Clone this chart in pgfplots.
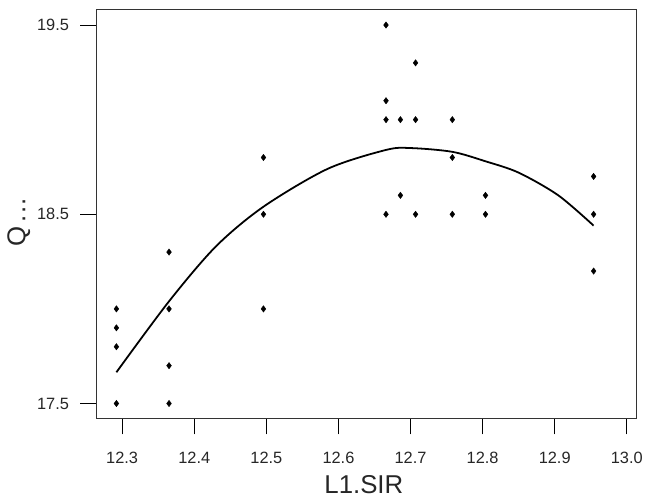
\documentclass[border=0pt]{standalone}
\usepackage{pgfplots}
\pgfplotsset{compat=1.18}
\usepackage{fontspec}
\setmainfont{Liberation Sans}

\begin{document}
\begin{tikzpicture}
\begin{axis}[
  at={(0,0)}, anchor=south west,
  scale only axis,
  width=545pt, height=412pt,
  xmin=12.264, xmax=13.014,
  ymin=17.42, ymax=19.58,
  xtick={12.3,12.4,12.5,12.6,12.7,12.8,12.9,13.0},
  ytick={17.5,18.5,19.5},
  xticklabels={12.3,12.4,12.5,12.6,12.7,12.8,12.9,13.0},
  yticklabels={17.5,18.5,19.5},
  tick align=outside,
  xtick pos=bottom, ytick pos=left,
  major tick length=16pt,
  tick style={black, line width=0.8pt},
  axis line style={black!80, line width=0.9pt},
  /pgf/number format/assume math mode=true,
  ticklabel style={font=\fontsize{16.5}{19}\selectfont, black!85},
  xticklabel style={yshift=-14pt},
  yticklabel style={xshift=-8pt},
  xlabel={L1.SIR},
  ylabel={Q\,.\kern1pt.\kern1pt.},
  label style={font=\fontsize{26}{31}\selectfont, black!85},
  x label style={at={(axis description cs:0.495,0)}, anchor=base, yshift=-75pt},
  y label style={at={(axis description cs:0,0.48)}, anchor=center, yshift=78pt},
  clip=false,
]
\addplot[only marks, mark=diamond*, mark size=3.2pt, black] coordinates {
  (12.292,18.0) (12.292,17.9) (12.292,17.8) (12.292,17.5)
  (12.365,18.3) (12.365,18.0) (12.365,17.7) (12.365,17.5)
  (12.496,18.8) (12.496,18.5) (12.496,18.0)
  (12.666,19.5) (12.666,19.1) (12.666,19.0) (12.666,18.5)
  (12.686,19.0) (12.686,18.6)
  (12.707,19.3) (12.707,19.0) (12.707,18.5)
  (12.758,19.0) (12.758,18.8) (12.758,18.5)
  (12.804,18.6) (12.804,18.5)
  (12.954,18.7) (12.954,18.5) (12.954,18.2)
};
\addplot[black, line width=1.8pt, smooth] coordinates {
  (12.292,17.665) (12.365,18.04) (12.43,18.33) (12.496,18.54)
  (12.585,18.74) (12.666,18.84) (12.70,18.85) (12.758,18.83)
  (12.804,18.78) (12.85,18.72) (12.905,18.60) (12.954,18.44)
};
\end{axis}
\path[use as bounding box] (-97pt,-83pt) rectangle (549pt,422pt);
\end{tikzpicture}
\end{document}
